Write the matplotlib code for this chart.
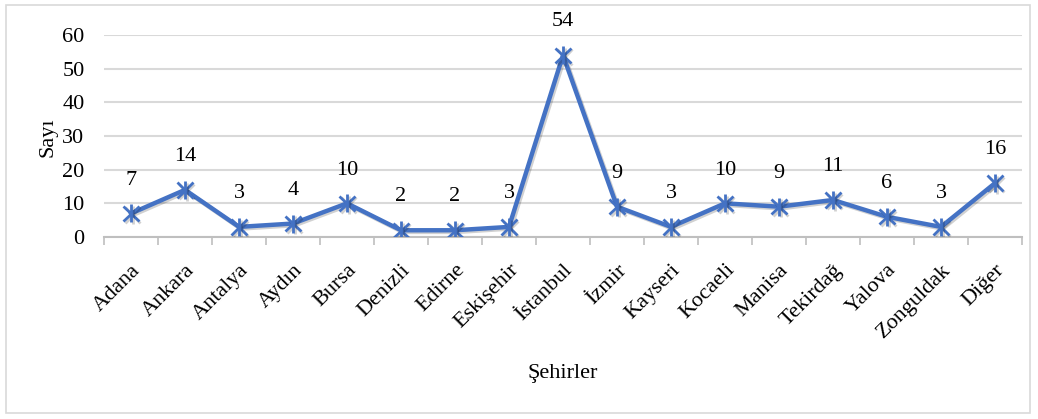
import matplotlib
matplotlib.use("Agg")
import matplotlib.pyplot as plt
import matplotlib.patheffects as pe
from matplotlib.patches import Rectangle

cities = ["Adana", "Ankara", "Antalya", "Aydın", "Bursa", "Denizli", "Edirne",
          "Eskişehir", "İstanbul", "İzmir", "Kayseri", "Kocaeli", "Manisa",
          "Tekirdağ", "Yalova", "Zonguldak", "Diğer"]
counts = [7, 14, 3, 4, 10, 2, 2, 3, 54, 9, 3, 10, 9, 11, 6, 3, 16]
y_ticks = [0, 10, 20, 30, 40, 50, 60]

plt.rcParams['font.family'] = ['Liberation Serif', 'DejaVu Serif']
W, H = 1038, 419
FS = 16
fig = plt.figure(figsize=(W / 100, H / 100), dpi=100)
fig.patches.append(Rectangle((6 / W, 1 - 413 / H), 1024 / W, 408 / H,
                             transform=fig.transFigure, fill=False,
                             edgecolor="#d9d9d9", linewidth=1.2))
ax = fig.add_axes([104 / W, 1 - 237 / H, 918 / W, 202 / H])

x = list(range(len(cities)))
shadow = [pe.SimpleLineShadow(offset=(1.2, -1.2), shadow_color="black", alpha=0.18),
          pe.Normal()]
ax.plot(x, counts, color="#4472C4", linewidth=3.2, zorder=3, path_effects=shadow)
ax.plot(x, counts, linestyle="none", marker="x", markersize=11, markeredgewidth=2,
        color="#4472C4", zorder=4, path_effects=shadow)
ax.plot(x, counts, linestyle="none", marker="|", markersize=13, markeredgewidth=2,
        color="#4472C4", zorder=4, path_effects=shadow)

for xi, v in zip(x, counts):
    ax.annotate(str(v), (xi, v), xytext=(0, 24), textcoords="offset points",
                ha="center", va="center", fontsize=FS)

ax.set_xlim(-0.5, len(cities) - 0.5)
ax.set_ylim(0, 60)
ax.set_yticks(y_ticks)
ax.set_yticklabels([str(t) for t in y_ticks], fontsize=FS)
ax.yaxis.grid(True, color="#d9d9d9", linewidth=1.5)
ax.set_axisbelow(True)
ax.tick_params(axis="y", length=0, pad=14)

ax.set_xticks([i - 0.5 for i in range(len(cities) + 1)], minor=False)
ax.set_xticklabels([])
ax.set_xticks(x, minor=True)
ax.set_xticklabels(cities, minor=True, rotation=45, ha="right",
                   rotation_mode="anchor", fontsize=FS)
ax.tick_params(axis="x", which="major", length=6, color="#bfbfbf", width=1.2)
ax.tick_params(axis="x", which="minor", length=0, pad=17)

for s in ["top", "right", "left"]:
    ax.spines[s].set_visible(False)
ax.spines["bottom"].set_color("#bfbfbf")
ax.spines["bottom"].set_linewidth(1.5)

fig.text(48 / W, 1 - 137 / H, "Sayı", rotation=90, ha="center", va="center",
         fontsize=FS)
fig.text(563 / W, 1 - 373 / H, "Şehirler", ha="center", va="center", fontsize=FS)

fig.savefig("out.png", dpi=100)
